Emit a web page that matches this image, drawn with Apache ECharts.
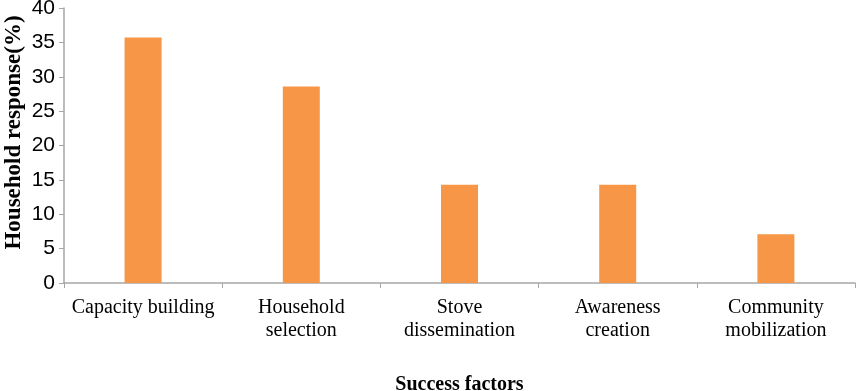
<!DOCTYPE html>
<html>
<head>
<meta charset="utf-8">
<script src="https://cdn.jsdelivr.net/npm/echarts@6/dist/echarts.min.js"></script>
<style>
  html, body { margin: 0; padding: 0; background: #fff; }
  #chart { width: 858px; height: 391px; }
</style>
</head>
<body>
<div id="chart"></div>
<script>
// categories and values
var factors = ['Capacity building', 'Household\nselection', 'Stove\ndissemination', 'Awareness\ncreation', 'Community\nmobilization'];
var responses = [35.7, 28.6, 14.3, 14.3, 7.1];

var chart = echarts.init(document.getElementById('chart'));
var option = {
    animation: false,
    grid: { left: 64, right: 3, top: 8, bottom: 108, containLabel: false, outerBoundsMode: 'none' },
    xAxis: {
        type: 'category',
        data: factors,
        name: 'Success factors',
        nameLocation: 'middle',
        nameGap: 92,
        nameMoveOverlap: false,
        nameTextStyle: { fontFamily: 'Liberation Serif', fontWeight: 'bold', fontSize: 20, color: '#000' },
        axisLine: { lineStyle: { color: '#a6a6a6', width: 1.5 } },
        axisTick: { show: true, alignWithLabel: false, length: 5, lineStyle: { color: '#a6a6a6' } },
        axisLabel: { fontFamily: 'Liberation Serif', fontSize: 20, color: '#000', margin: 13, lineHeight: 23, interval: 0 }
    },
    yAxis: {
        type: 'value',
        min: 0,
        max: 40,
        interval: 5,
        name: 'Household response(%)',
        nameLocation: 'middle',
        nameGap: 38,
        nameMoveOverlap: false,
        nameTextStyle: { fontFamily: 'Liberation Serif', fontWeight: 'bold', fontSize: 23, color: '#000', padding: [0, 0, 0, 26] },
        axisLine: { show: true, lineStyle: { color: '#a6a6a6', width: 1.5 } },
        axisTick: { show: true, length: 5, lineStyle: { color: '#a6a6a6' } },
        axisLabel: { fontFamily: 'Liberation Sans', fontSize: 21, color: '#000', margin: 9 },
        splitLine: { show: false }
    },
    series: [{
        type: 'bar',
        data: responses,
        barWidth: 37,
        itemStyle: { color: '#f79646' }
    }]
};
chart.setOption(option);
</script>
</body>
</html>
